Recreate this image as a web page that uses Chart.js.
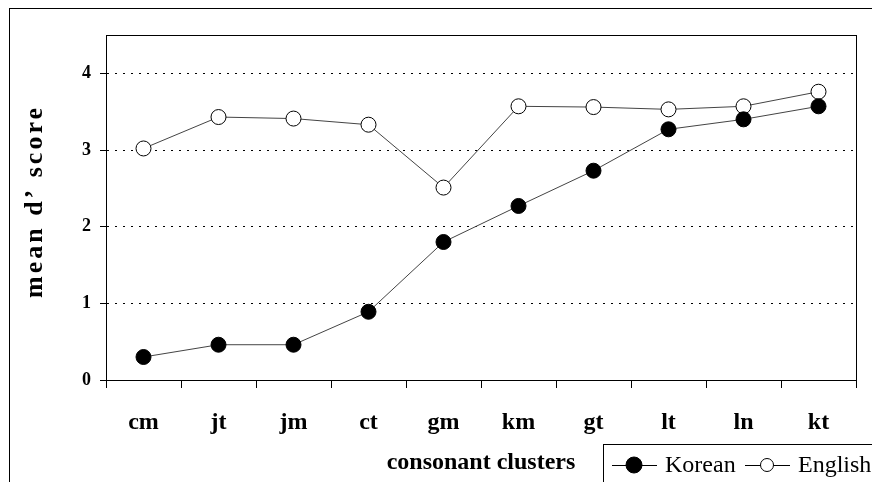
<!DOCTYPE html>
<html>
<head>
<meta charset="utf-8">
<title>mean d' score by consonant cluster</title>
<script src="https://cdn.jsdelivr.net/npm/chart.js@4.4.1/dist/chart.umd.min.js"></script>
<style>
  html, body { margin: 0; padding: 0; background: #fff; }
  #wrap { width: 872px; height: 482px; }
</style>
</head>
<body>
<div id="wrap"><canvas id="chart" width="872" height="482"></canvas></div>
<script>
const clusters = ["cm", "jt", "jm", "ct", "gm", "km", "gt", "lt", "ln", "kt"];
const korean = [0.30, 0.46, 0.46, 0.89, 1.80, 2.27, 2.73, 3.27, 3.40, 3.57];
const english = [3.02, 3.43, 3.41, 3.33, 2.51, 3.57, 3.56, 3.53, 3.57, 3.76];
const yTicks = [0, 1, 2, 3, 4];

const SERIF = "'Liberation Serif', 'Times New Roman', serif";

// frame around the whole chart, box around the plot, y title and legend
const decorations = {
  id: "decorations",
  beforeDraw(chart) {
    const ctx = chart.ctx;
    ctx.save();
    ctx.fillStyle = "#fff";
    ctx.fillRect(0, 0, chart.width, chart.height);
    ctx.strokeStyle = "#000";
    ctx.lineWidth = 1;
    ctx.strokeRect(9.5, 8.5, 1000, 1000);
    ctx.restore();
  },
  afterDatasetsDraw(chart) {
    const ctx = chart.ctx;
    const a = chart.chartArea;
    ctx.save();
    ctx.strokeStyle = "#000";
    ctx.lineWidth = 1;
    ctx.strokeRect(Math.round(a.left) + 0.5, Math.round(a.top) + 0.5,
      Math.round(a.right - a.left), Math.round(a.bottom - a.top));

    // y axis title, drawn by hand for the wide letter spacing
    ctx.translate(35, (a.top + a.bottom) / 2 - 6);
    ctx.rotate(-Math.PI / 2);
    ctx.font = "bold 26px " + SERIF;
    ctx.letterSpacing = "3px";
    ctx.fillStyle = "#000";
    ctx.textAlign = "center";
    ctx.textBaseline = "middle";
    ctx.fillText("mean d\u2019 score", 0, 0);
    ctx.restore();

    drawLegend(chart);
  },
};

function drawLegend(chart) {
  const ctx = chart.ctx;
  ctx.save();
  ctx.strokeStyle = "#000";
  ctx.lineWidth = 1;
  ctx.strokeRect(603.5, 444.5, 400, 100);

  const y = 465;
  const items = [
    { x: 612, r: 8, ds: chart.data.datasets[0] },
    { x: 745, r: 6.5, ds: chart.data.datasets[1] },
  ];
  ctx.font = "24px " + SERIF;
  ctx.textBaseline = "middle";
  for (const item of items) {
    ctx.strokeStyle = "#000";
    ctx.beginPath();
    ctx.moveTo(item.x, y + 0.5);
    ctx.lineTo(item.x + 45, y + 0.5);
    ctx.stroke();
    ctx.beginPath();
    ctx.arc(item.x + 22, y, item.r, 0, Math.PI * 2);
    ctx.fillStyle = item.ds.pointBackgroundColor;
    ctx.fill();
    ctx.stroke();
    ctx.fillStyle = "#000";
    ctx.fillText(item.ds.label, item.x + 53, y + 1);
  }
  ctx.restore();
}

new Chart(document.getElementById("chart"), {
  type: "line",
  data: {
    labels: clusters,
    datasets: [
      {
        label: "Korean",
        data: korean,
        borderColor: "#444",
        borderWidth: 1,
        pointRadius: 7.5,
        pointBackgroundColor: "#000",
        pointBorderColor: "#000",
        pointBorderWidth: 1,
      },
      {
        label: "English",
        data: english,
        borderColor: "#444",
        borderWidth: 1,
        pointRadius: 7.5,
        pointBackgroundColor: "#fff",
        pointBorderColor: "#000",
        pointBorderWidth: 1,
      },
    ],
  },
  options: {
    responsive: false,
    animation: false,
    events: [],
    layout: { padding: { left: 0, top: 35, right: 16, bottom: 0 } },
    plugins: {
      legend: { display: false },
      tooltip: { enabled: false },
    },
    scales: {
      x: {
        offset: true,
        afterFit: (scale) => { scale.height = 102; },
        grid: {
          offset: true,
          drawOnChartArea: false,
          color: "#000",
          tickLength: 8,
        },
        border: { display: true, color: "#000", width: 1 },
        ticks: {
          color: "#000",
          padding: 20,
          font: { family: SERIF, size: 24, weight: "bold" },
        },
        title: {
          display: true,
          text: "consonant clusters",
          color: "#000",
          font: { family: SERIF, size: 24, weight: "bold" },
          padding: { top: 0, bottom: 5 },
        },
      },
      y: {
        min: 0,
        max: 4.5,
        afterFit: (scale) => { scale.width = 106; },
        afterBuildTicks: (scale) => {
          scale.ticks = yTicks.map((v) => ({ value: v }));
        },
        grid: {
          color: "#000",
          lineWidth: 1,
          tickBorderDash: [],
          tickColor: "#000",
          tickLength: 6,
        },
        border: { display: true, color: "#000", width: 1, dash: [2, 6] },
        ticks: {
          color: "#000",
          padding: 9,
          font: { family: SERIF, size: 18, weight: "bold" },
        },
      },
    },
  },
  plugins: [decorations],
});
</script>
</body>
</html>
